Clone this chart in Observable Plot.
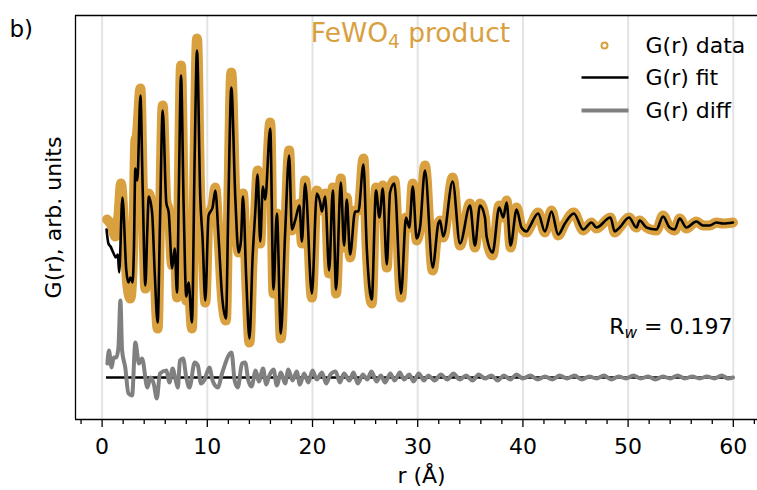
<!DOCTYPE html>
<html>
<head>
<meta charset="utf-8">
<script src="https://cdn.jsdelivr.net/npm/d3@7"></script>
<script src="https://cdn.jsdelivr.net/npm/@observablehq/plot@0.6"></script>
<style>
  html, body { margin: 0; padding: 0; background: #fff; overflow: hidden; }
  #chart { width: 757px; height: 490px; overflow: hidden; }
  #chart svg { display: block; }
</style>
</head>
<body>
<div id="chart"></div>
<script>
// ---- data (arbitrary G(r) units) ----
const dataR = [0.47,0.9,1.26,1.55,1.8,2.1,2.4,2.69,2.95,3.16,3.3,3.64,3.85,4.11,4.3,4.43,4.75,5.0,5.28,5.5,5.76,6.1,6.33,6.65,6.9,7.12,7.3,7.5,7.75,8.0,8.22,8.54,8.8,9.02,9.33,9.55,9.81,10.12,10.5,10.76,11.07,11.4,11.77,12.0,12.28,12.66,12.97,13.2,13.39,13.7,14.01,14.3,14.55,14.78,15.03,15.28,15.5,15.98,16.29,16.61,16.99,17.4,17.78,18.04,18.35,18.76,18.99,19.3,19.94,20.41,20.73,20.89,21.2,21.58,21.93,22.24,22.69,23.0,23.26,23.57,24.05,24.36,24.84,25.16,25.63,26.04,26.36,26.68,27.06,27.37,27.78,28.42,28.89,29.2,29.53,29.9,30.22,30.69,31.42,31.96,32.12,32.43,33.32,34.02,34.97,35.44,35.92,36.39,36.55,37.12,37.75,38.13,38.45,38.83,39.4,39.87,40.35,40.66,41.45,42.09,42.72,43.35,43.99,44.84,45.73,46.52,46.99,48.32,48.73,49.2,50.09,50.79,51.1,51.74,52.69,53.32,53.95,54.43,54.9,55.54,56.49,57.12,57.75,58.39,59.02,59.97];
const dataG = [3,-3,-14,7,39,-8,-63,-76,-28,82,87,134,42,-66,-8,29,12,-53,-106,2,117,22,12,-43,-23,-75,42,157,22,-78,-63,-106,72,184,25,-18,-80,7,17,35,-15,-75,-98,22,150,27,-30,-18,29,-58,-120,-38,9,52,-21,39,25,100,-71,9,-116,-11,72,-8,2,19,-21,42,-75,32,22,12,29,-51,35,-71,44,-25,25,-35,12,12,64,-28,-81,35,5,37,-45,32,42,-75,5,-5,39,-18,-5,57,-48,-1,2,-15,45,-23,19,-25,19,5,-15,-33,17,5,22,-25,15,-5,-10,-5,10,-10,12,-13,-1,10,-8,0,-6,5,-10,-5,5,-5,2,-5,-8,7,-5,-8,4,-6,1,-3,-3,0,-1,0];

const fitR = [0.42,0.6,0.8,1.1,1.3,1.5,1.62,1.93,2.3,2.5,2.7,2.9,3.02,3.16,3.35,3.64,3.85,4.11,4.3,4.43,4.75,5.0,5.28,5.5,5.76,6.1,6.33,6.65,6.9,7.12,7.3,7.5,7.75,8.0,8.22,8.54,8.8,9.02,9.33,9.55,9.81,10.12,10.5,10.76,11.07,11.4,11.77,12.0,12.28,12.66,12.97,13.2,13.39,13.7,14.01,14.3,14.55,14.78,15.03,15.28,15.5,15.98,16.29,16.61,16.99,17.4,17.78,18.04,18.35,18.76,18.99,19.3,19.94,20.41,20.73,20.89,21.2,21.58,21.93,22.24,22.69,23.0,23.26,23.57,24.05,24.36,24.84,25.16,25.63,26.04,26.36,26.68,27.06,27.37,27.78,28.42,28.89,29.2,29.53,29.9,30.22,30.69,31.42,31.96,32.12,32.43,33.32,34.02,34.97,35.44,35.92,36.39,36.55,37.12,37.75,38.13,38.45,38.83,39.4,39.87,40.35,40.66,41.45,42.09,42.72,43.35,43.99,44.84,45.73,46.52,46.99,48.32,48.73,49.2,50.09,50.79,51.1,51.74,52.69,53.32,53.95,54.43,54.9,55.54,56.49,57.12,57.75,58.39,59.02,59.97];
const fitG = [-7,-21,-24,-31,-35,-32,-50,25,-48,-60,-55,-60,-28,54,42,127,37,-63,-6,26,10,-50,-100,0,112,20,10,-46,-26,-70,37,147,17,-74,-60,-100,67,172,25,-16,-78,7,15,32,-15,-73,-96,17,135,25,-30,-18,26,-56,-116,-36,9,48,-19,36,23,94,-67,9,-111,-10,67,-7,2,17,-19,39,-71,29,20,11,26,-48,32,-67,40,-23,23,-32,11,11,58,-26,-77,32,5,34,-42,30,39,-71,5,-5,36,-16,-5,52,-45,-1,2,-14,41,-21,17,-23,17,5,-14,-30,15,5,20,-23,13,-5,-9,-4,9,-9,11,-12,-1,9,-7,0,-5,5,-9,-5,5,-5,2,-5,-7,6,-5,-7,4,-5,1,-3,-3,0,-1,0];

const diffR = [0.5,0.65,0.9,1.1,1.35,1.55,1.74,1.9,2.2,2.5,2.85,3.16,3.5,3.8,4.3,4.6,4.9,5.2,5.5,6.1,6.4,6.7,7.0,7.2,7.4,7.7,8.0,8.3,8.8,9.1,9.4,9.7,10.2,10.5,11.0,11.4,12.3,12.6,12.9,13.3,13.6,13.9,14.2,14.6,14.9,15.3,15.6,15.9,16.3,16.6,17.0,17.4,17.7,18.1,18.5,18.8,19.2,19.6,20.0,20.4,20.9,21.3,21.7,22.2,22.6,23.0,23.5,23.9,24.3,24.8,25.2,25.6,26.1,26.5,26.9,27.4,27.8,28.3,28.7,29.2,29.6,30.1,30.6,31.0,31.6,32.2,32.8,33.4,34.0,34.6,35.2,35.8,36.4,37.0,37.6,38.2,38.8,39.4,40.0,40.7,41.4,42.1,42.8,43.5,44.2,44.9,45.6,46.3,47.0,47.7,48.4,49.1,49.8,50.5,51.2,51.9,52.6,53.3,54.0,54.7,55.4,56.1,56.8,57.5,58.2,58.9,59.5,59.97];
const diffG = [14,27,10,20,20,30,77,27,10,-16,-18,35,14,19,-10,0,-6,-21,4,7,-5,9,-3,-10,17,19,0,-10,15,12,-6,-3,10,-3,-10,4,25,-3,-10,14,15,-3,-9,7,-4,9,-7,2,8,-8,5,-6,8,-3,6,-7,4,-5,7,-2,5,-6,3,6,-5,4,-3,5,-6,3,-2,6,-4,2,-5,4,-3,5,-2,3,-4,4,-3,2,-3,3,-2,4,-2,2,-3,3,-1,2,-3,2,-2,3,-1,2,-2,1,-2,2,-1,2,-2,1,-1,2,-2,1,-1,2,-1,1,-2,1,-1,2,-1,1,-1,1,-1,2,-1,0];
const diffOffset = -155;

const xDomain = [-2.53, 62.3];
const yDomain = [-197, 207];
const xMajor = [0, 10, 20, 30, 40, 50, 60];
const xMinor = [-2, 2, 4, 6, 8, 12, 14, 16, 18, 22, 24, 26, 28, 32, 34, 36, 38, 42, 44, 46, 48, 52, 54, 56, 58, 62];
const legendLabels = ["G(r) data", "G(r) fit", "G(r) diff"];
const titleText = ["FeWO4 product"];
const rwText = ["Rw = 0.197"];
const panelText = ["b)"];
const xLabel = ["r (Å)"];
const yLabel = ["G(r), arb. units"];

const orange = "#d9a03f";
const gray = "#808080";
const FONT = "DejaVu Sans";

const lineSymbol = {
  draw(context, size) {
    const w = Math.sqrt(size / Math.PI);
    context.moveTo(-w, 0);
    context.lineTo(w, 0);
  }
};

const chart = Plot.plot({
  width: 757,
  height: 490,
  marginLeft: 75,
  marginRight: 0,
  marginTop: 15,
  marginBottom: 71,
  style: { fontFamily: FONT, fontSize: "22px", background: "white", color: "black", overflow: "hidden" },
  x: { domain: xDomain, axis: null },
  y: { domain: yDomain, axis: null },
  marks: [
    Plot.gridX(xMajor, { stroke: "#e3e3e3", strokeOpacity: 1, strokeWidth: 2 }),
    Plot.line(dataG, { x: dataR, y: dataG, stroke: orange, strokeWidth: 10, curve: "monotone-x", strokeLinejoin: "round", strokeLinecap: "round" }),
    Plot.line(fitG, { x: fitR, y: fitG, stroke: "black", strokeWidth: 2.6, curve: "monotone-x" }),
    Plot.ruleY([diffOffset], { x1: d3.min(fitR), x2: d3.max(fitR), stroke: "black", strokeWidth: 2.6 }),
    Plot.line(diffG, { x: diffR, y: diffG.map(d => d + diffOffset), stroke: gray, strokeWidth: 4, curve: "monotone-x" }),
    // spines: top, bottom, left (right spine lies outside the picture)
    Plot.ruleY([yDomain[1]], { stroke: "black", strokeWidth: 1.3 }),
    Plot.ruleY([yDomain[0]], { stroke: "black", strokeWidth: 1.3 }),
    Plot.ruleX([xDomain[0]], { stroke: "black", strokeWidth: 1.3 }),
    Plot.axisX(xMinor, { anchor: "bottom", tickSize: 5, tickFormat: () => "", strokeWidth: 1.3, label: null }),
    Plot.axisX(xMajor, { anchor: "bottom", tickSize: 8, tickPadding: 11, fontSize: 22, strokeWidth: 1.3, label: null }),
    Plot.text(xLabel, { text: d => d, frameAnchor: "bottom-left", lineAnchor: "middle", textAnchor: "middle", dx: 346, dy: 56, fontSize: 22 }),
    Plot.text(yLabel, { text: d => d, frameAnchor: "left", lineAnchor: "middle", textAnchor: "middle", rotate: -90, dx: -22, fontSize: 22 }),
    Plot.text(panelText, { text: d => d, frameAnchor: "top-left", lineAnchor: "middle", textAnchor: "start", dx: -66, dy: 14, fontSize: 23 }),
    Plot.text(titleText, { text: d => d, frameAnchor: "top-left", lineAnchor: "middle", textAnchor: "middle", dx: 335, dy: 18, fontSize: 26.5, fill: orange }),
    // legend
    Plot.dot([0], { frameAnchor: "top-left", dx: 529, dy: 30, r: 3, stroke: orange, strokeWidth: 2, fill: "none" }),
    Plot.dot([0], { frameAnchor: "top-left", dx: 529.5, dy: 62, r: 23.5, symbol: lineSymbol, stroke: "black", strokeWidth: 2.6, fill: "none" }),
    Plot.dot([0], { frameAnchor: "top-left", dx: 529.5, dy: 95, r: 23.5, symbol: lineSymbol, stroke: gray, strokeWidth: 4, fill: "none" }),
    ...legendLabels.map((lab, i) => Plot.text([lab], { text: d => d, frameAnchor: "top-left", lineAnchor: "middle", textAnchor: "start", dx: 570, dy: [30, 62, 95][i], fontSize: 22 })),
    Plot.text(rwText, { text: d => d, frameAnchor: "bottom-left", lineAnchor: "middle", textAnchor: "end", dx: 657, dy: -93, fontSize: 22 })
  ]
});

function subscript(svg, full, base, sub, rest, fs, italic) {
  d3.select(svg).selectAll("text")
    .filter(function () { return this.textContent === full; })
    .each(function () {
      const t = d3.select(this);
      t.text(null);
      t.append("tspan").text(base);
      t.append("tspan").attr("font-size", fs * 0.7).attr("dy", fs * 0.22)
        .attr("font-style", italic ? "italic" : null).text(sub);
      t.append("tspan").attr("dy", -fs * 0.22).text(rest);
    });
}
subscript(chart, titleText[0], "FeWO", "4", " product", 26.5, false);
subscript(chart, rwText[0], "R", "w", " = 0.197", 22, true);

document.getElementById("chart").appendChild(chart);
</script>
</body>
</html>
